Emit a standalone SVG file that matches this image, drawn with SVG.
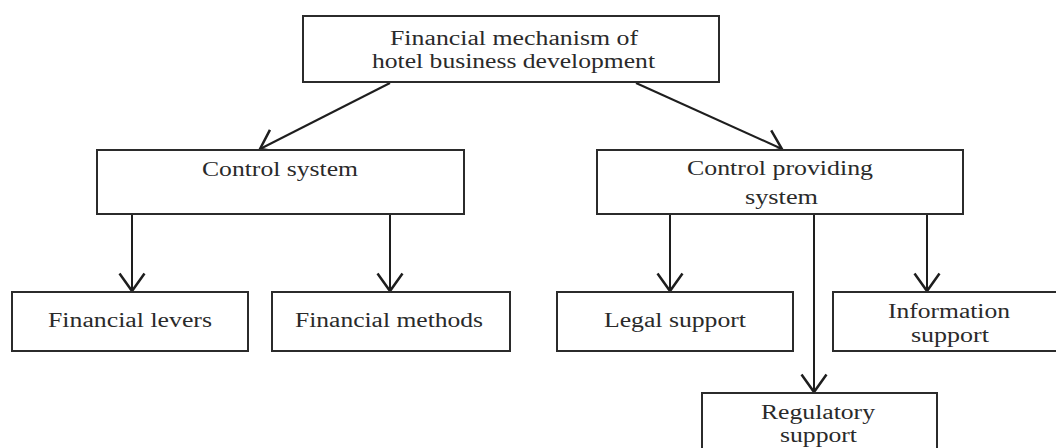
<svg xmlns="http://www.w3.org/2000/svg" width="1056" height="448" viewBox="0 0 1056 448">
  <defs>
    <style>
      .box { fill: #ffffff; stroke: #2b2b2b; stroke-width: 2; }
      .lbl { font-family: "Liberation Serif", "Times New Roman", serif; font-size: 20px; fill: #2a2a2a; text-anchor: middle; }
      .conn { stroke: #1e1e1e; stroke-width: 2; fill: none; }
    </style>
    <marker id="arrow" markerUnits="userSpaceOnUse" markerWidth="30" markerHeight="30" refX="0" refY="0" viewBox="-16 -12 18 24" orient="auto" overflow="visible">
      <path d="M-14,-10 L0,0 L-14,10" fill="none" stroke="#1e1e1e" stroke-width="2"/>
    </marker>
  </defs>
  <rect width="1056" height="448" fill="#ffffff"/>

  <g id="connectors">
    <line class="conn" x1="390" y1="83" x2="260" y2="149" marker-end="url(#arrow)"/>
    <line class="conn" x1="636" y1="83" x2="782" y2="149" marker-end="url(#arrow)"/>
    <line class="conn" x1="132" y1="214" x2="132" y2="291" marker-end="url(#arrow)"/>
    <line class="conn" x1="390" y1="214" x2="390" y2="291" marker-end="url(#arrow)"/>
    <line class="conn" x1="670" y1="214" x2="670" y2="291" marker-end="url(#arrow)"/>
    <line class="conn" x1="814" y1="214" x2="814" y2="392" marker-end="url(#arrow)"/>
    <line class="conn" x1="927" y1="214" x2="927" y2="291" marker-end="url(#arrow)"/>
  </g>

  <g id="node-root">
    <rect class="box" x="303" y="16" width="416" height="66"/>
    <text class="lbl" x="514" y="45" textLength="248" lengthAdjust="spacingAndGlyphs">Financial mechanism of</text>
    <text class="lbl" x="513.5" y="68" textLength="283" lengthAdjust="spacingAndGlyphs">hotel business development</text>
  </g>

  <g id="node-control-system">
    <rect class="box" x="97" y="150" width="367" height="64"/>
    <text class="lbl" x="280" y="176" textLength="156" lengthAdjust="spacingAndGlyphs">Control system</text>
  </g>

  <g id="node-control-providing">
    <rect class="box" x="597" y="150" width="366" height="64"/>
    <text class="lbl" x="780" y="175" textLength="186" lengthAdjust="spacingAndGlyphs">Control providing</text>
    <text class="lbl" x="781.5" y="204" textLength="73" lengthAdjust="spacingAndGlyphs">system</text>
  </g>

  <g id="node-financial-levers">
    <rect class="box" x="12" y="292" width="236" height="59"/>
    <text class="lbl" x="130" y="327" textLength="164" lengthAdjust="spacingAndGlyphs">Financial levers</text>
  </g>

  <g id="node-financial-methods">
    <rect class="box" x="272" y="292" width="238" height="59"/>
    <text class="lbl" x="389" y="327" textLength="188" lengthAdjust="spacingAndGlyphs">Financial methods</text>
  </g>

  <g id="node-legal-support">
    <rect class="box" x="557" y="292" width="236" height="59"/>
    <text class="lbl" x="675" y="327" textLength="142" lengthAdjust="spacingAndGlyphs">Legal support</text>
  </g>

  <g id="node-information-support">
    <rect class="box" x="833" y="292" width="230" height="59"/>
    <text class="lbl" x="949" y="318" textLength="122" lengthAdjust="spacingAndGlyphs">Information</text>
    <text class="lbl" x="950" y="342" textLength="78" lengthAdjust="spacingAndGlyphs">support</text>
  </g>

  <g id="node-regulatory-support">
    <rect class="box" x="702" y="393" width="235" height="62"/>
    <text class="lbl" x="818" y="419" textLength="114" lengthAdjust="spacingAndGlyphs">Regulatory</text>
    <text class="lbl" x="818.5" y="442" textLength="77" lengthAdjust="spacingAndGlyphs">support</text>
  </g>
</svg>
